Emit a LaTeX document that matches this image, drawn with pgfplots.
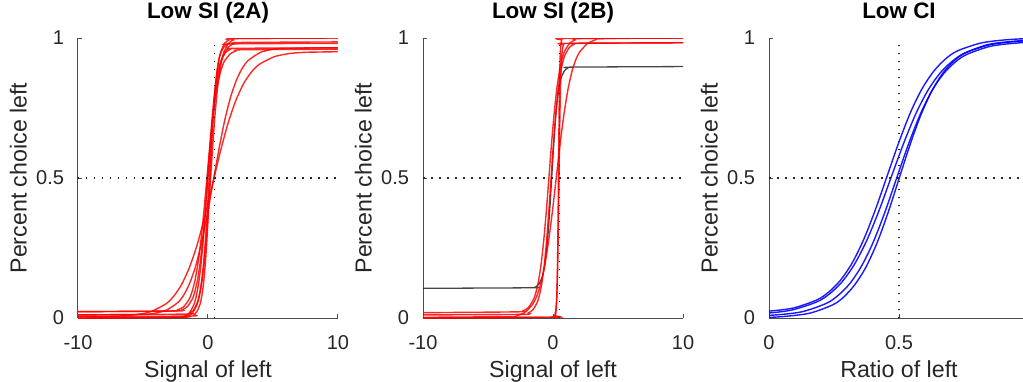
\documentclass[border=0pt]{standalone}
\usepackage{fontspec}
\setmainfont{Liberation Sans}
\usepackage{pgfplots}
\pgfplotsset{compat=1.18}
\definecolor{axgray}{gray}{0.3}
\definecolor{txtgray}{gray}{0.15}

\pgfplotsset{
  psy/.style={
    scale only axis, width=130pt, height=140pt,
    anchor=south west,
    axis x line*=bottom, axis y line*=left,
    axis line style={axgray, line width=0.5pt, -},
    tick align=inside, major tick length=2pt,
    tick style={axgray, line width=0.5pt},
    ymin=0, ymax=1, ytick={0,0.5,1}, yticklabels={0,0.5,1},
    tick label style={font=\fontsize{10}{12}\selectfont, text=txtgray},
    yticklabel style={xshift=-3.5pt},
    xticklabel style={yshift=-5pt},
    label style={font=\fontsize{11.6}{14}\selectfont, text=txtgray},
    xlabel style={at={(axis description cs:0.5,0)}, anchor=base, yshift=-29.5pt},
    ylabel style={at={(axis description cs:0,0.5)}, anchor=south, yshift=22pt},
    title style={at={(axis description cs:0.5,1)}, anchor=base, yshift=3.7pt,
                 font=\bfseries\fontsize{11.2}{13}\selectfont},
    ylabel={Percent choice left},
  },
  sig/.style={
    xmin=-10, xmax=10, xtick={-10,0,10}, xticklabels={-10,0,10},
    xlabel={Signal of left},
  },
  redfit/.style={red, opacity=0.85, line width=0.7pt, smooth, tension=0.4},
  blackfit/.style={black!85, opacity=0.85, line width=0.65pt, smooth, tension=0.4},
  bluefit/.style={blue, opacity=0.9, line width=0.7pt, smooth, tension=0.5},
  refline/.style={black!85, line width=0.75pt, dash pattern=on 0.75pt off 3.25pt},
}

\begin{document}
\begin{tikzpicture}
\useasboundingbox (0,0) rectangle (511.5pt,190.5pt);
\clip (0,0) rectangle (511.5pt,190.5pt);

% ---------------- Low SI (2A) ----------------
\begin{axis}[psy, sig, at={(39pt,31.5pt)}, title={Low SI (2A)}]
\addplot[redfit] coordinates {(-10,0.005) (-6.85,0.007) (-5.65,0.011) (-4.45,0.022) (-3.25,0.050) (-2.65,0.077) (-2.05,0.118) (-1.45,0.178) (-0.85,0.259) (-0.25,0.362) (0.35,0.478) (0.95,0.594) (1.55,0.697) (2.15,0.778) (2.75,0.838) (3.35,0.879) (3.95,0.906) (5.15,0.934) (6.35,0.945) (7.55,0.949) (10,0.951)};
\addplot[redfit] coordinates {(-10,0.011) (-5.0,0.013) (-4.1,0.017) (-3.2,0.028) (-2.3,0.056) (-1.85,0.083) (-1.4,0.125) (-0.95,0.185) (-0.5,0.268) (-0.05,0.371) (0.4,0.488) (0.85,0.605) (1.3,0.709) (1.75,0.791) (2.2,0.851) (2.65,0.893) (3.1,0.920) (4.0,0.948) (4.9,0.959) (5.8,0.963) (10,0.965)};
\addplot[redfit] coordinates {(-10,0.0225) (-2.4,0.025) (-2.0,0.029) (-1.6,0.040) (-1.2,0.068) (-1.0,0.096) (-0.8,0.137) (-0.6,0.198) (-0.4,0.282) (-0.2,0.386) (0,0.504) (0.2,0.622) (0.4,0.727) (0.6,0.810) (0.8,0.871) (1.0,0.913) (1.2,0.940) (1.6,0.969) (2.0,0.980) (2.4,0.984) (10,0.986)};
\addplot[redfit] coordinates {(-10,0.011) (-1.7,0.014) (-1.4,0.018) (-1.1,0.029) (-0.8,0.058) (-0.65,0.086) (-0.5,0.129) (-0.35,0.191) (-0.2,0.277) (-0.05,0.384) (0.1,0.506) (0.25,0.627) (0.4,0.734) (0.55,0.820) (0.7,0.882) (0.85,0.925) (1.0,0.953) (1.3,0.982) (1.6,0.993) (1.9,0.998) (10,1.0)};
\addplot[redfit] coordinates {(-10,0.005) (-1.35,0.007) (-1.1,0.012) (-0.85,0.023) (-0.6,0.051) (-0.475,0.079) (-0.35,0.121) (-0.225,0.183) (-0.1,0.267) (0.025,0.373) (0.15,0.493) (0.275,0.613) (0.4,0.719) (0.525,0.803) (0.65,0.865) (0.775,0.907) (0.9,0.935) (1.15,0.963) (1.4,0.975) (1.65,0.979) (10,0.981)};
\addplot[redfit] coordinates {(-10,0) (-2.15,0.002) (-1.8,0.007) (-1.45,0.017) (-1.1,0.046) (-0.925,0.073) (-0.75,0.115) (-0.575,0.176) (-0.4,0.260) (-0.225,0.364) (-0.05,0.483) (0.125,0.601) (0.3,0.706) (0.475,0.789) (0.65,0.850) (0.825,0.892) (1.0,0.919) (1.35,0.948) (1.7,0.959) (2.05,0.963) (10,0.965)};
\addplot[redfit] coordinates {(-10,0) (-1.9,0.003) (-1.55,0.007) (-1.2,0.018) (-0.85,0.047) (-0.675,0.076) (-0.5,0.119) (-0.325,0.182) (-0.15,0.269) (0.025,0.378) (0.2,0.5) (0.375,0.623) (0.55,0.731) (0.725,0.818) (0.9,0.881) (1.075,0.924) (1.25,0.953) (1.6,0.982) (1.95,0.993) (2.3,0.998) (10,1.0)};
\addplot[redfit] coordinates {(-10,0.0225) (-2.8,0.025) (-2.35,0.029) (-1.9,0.039) (-1.45,0.067) (-1.225,0.094) (-1.0,0.134) (-0.775,0.194) (-0.55,0.275) (-0.325,0.376) (-0.1,0.491) (0.125,0.606) (0.35,0.708) (0.575,0.789) (0.8,0.848) (1.025,0.889) (1.25,0.916) (1.7,0.943) (2.15,0.954) (2.6,0.958) (10,0.960)};
\addplot[refline] coordinates {(-10,0.5) (10,0.5)};
\addplot[refline] coordinates {(0.5,0) (0.5,1)};
\end{axis}

% ---------------- Low SI (2B) ----------------
\begin{axis}[psy, sig, at={(211.5pt,31.5pt)}, title={Low SI (2B)}]
\addplot[blackfit] coordinates {(-10,0.106) (-1.6,0.108) (-1.35,0.111) (-1.1,0.120) (-0.85,0.144) (-0.725,0.166) (-0.6,0.200) (-0.475,0.251) (-0.35,0.319) (-0.225,0.405) (-0.1,0.502) (0.025,0.599) (0.15,0.685) (0.275,0.754) (0.4,0.804) (0.525,0.838) (0.65,0.861) (0.9,0.884) (1.15,0.893) (1.4,0.896) (10,0.898)};
\addplot[redfit] coordinates {(-10,0.019) (-2.7,0.022) (-2.3,0.026) (-1.9,0.037) (-1.5,0.066) (-1.3,0.094) (-1.1,0.136) (-0.9,0.198) (-0.7,0.283) (-0.5,0.389) (-0.3,0.510) (-0.1,0.630) (0.1,0.736) (0.3,0.821) (0.5,0.883) (0.7,0.926) (0.9,0.954) (1.3,0.982) (1.7,0.993) (2.1,0.998) (10,1.0)};
\addplot[redfit] coordinates {(-10,0.011) (-2.25,0.013) (-1.9,0.018) (-1.55,0.029) (-1.2,0.057) (-1.025,0.085) (-0.85,0.127) (-0.675,0.188) (-0.5,0.272) (-0.325,0.378) (-0.15,0.497) (0.025,0.616) (0.2,0.722) (0.375,0.806) (0.55,0.867) (0.725,0.909) (0.9,0.937) (1.25,0.966) (1.6,0.977) (1.95,0.981) (10,0.983)};
\addplot[redfit] coordinates {(-10,0.0025) (-3.35,0.005) (-2.75,0.009) (-2.15,0.020) (-1.55,0.050) (-1.25,0.078) (-0.95,0.121) (-0.65,0.184) (-0.35,0.271) (-0.05,0.379) (0.25,0.501) (0.55,0.622) (0.85,0.730) (1.15,0.816) (1.45,0.879) (1.75,0.922) (2.05,0.950) (2.65,0.980) (3.25,0.993) (3.85,0.998) (10,1.0)};
\addplot[redfit] coordinates {(-10,0) (0.12,0.003) (0.17,0.007) (0.22,0.018) (0.27,0.047) (0.295,0.076) (0.32,0.119) (0.345,0.182) (0.37,0.269) (0.395,0.378) (0.42,0.5) (0.445,0.623) (0.47,0.731) (0.495,0.818) (0.52,0.881) (0.545,0.924) (0.57,0.953) (0.62,0.982) (0.67,0.993) (0.72,0.998) (10,1.0)};
\addplot[redfit] coordinates {(-10,0) (0.04,0.003) (0.11,0.007) (0.18,0.018) (0.25,0.047) (0.285,0.075) (0.32,0.117) (0.355,0.179) (0.39,0.264) (0.425,0.371) (0.46,0.492) (0.495,0.612) (0.53,0.719) (0.565,0.804) (0.6,0.866) (0.635,0.908) (0.67,0.936) (0.74,0.965) (0.81,0.976) (0.88,0.981) (10,0.983)};
\addplot[refline] coordinates {(-10,0.5) (10,0.5)};
\addplot[refline] coordinates {(0.5,0) (0.5,1)};
\end{axis}

% ---------------- Low CI ----------------
\begin{axis}[psy, at={(384.5pt,31.5pt)}, title={Low CI},
  xmin=0, xmax=1, xtick={0,0.5,1}, xticklabels={0,0.5,1},
  xlabel={Ratio of left}]
\addplot[bluefit] coordinates {(-0.2,0.018) (-0.085,0.020) (0.005,0.025) (0.095,0.036) (0.185,0.065) (0.23,0.093) (0.275,0.135) (0.32,0.197) (0.365,0.282) (0.41,0.389) (0.455,0.509) (0.5,0.629) (0.545,0.736) (0.59,0.821) (0.635,0.883) (0.68,0.926) (0.725,0.954) (0.815,0.982) (0.905,0.993) (0.995,0.998) (1.1,1.0)};
\addplot[bluefit] coordinates {(-0.2,0.011) (-0.1,0.014) (0.0,0.018) (0.09,0.029) (0.185,0.058) (0.2325,0.086) (0.28,0.128) (0.3275,0.190) (0.375,0.275) (0.4225,0.382) (0.47,0.503) (0.5175,0.623) (0.565,0.730) (0.6125,0.815) (0.66,0.877) (0.7075,0.919) (0.755,0.947) (0.85,0.976) (0.945,0.987) (1.04,0.992) (1.2,0.994)};
\addplot[bluefit] coordinates {(-0.2,0.005) (-0.05,0.008) (0.04,0.012) (0.13,0.023) (0.22,0.052) (0.265,0.080) (0.31,0.122) (0.355,0.184) (0.4,0.269) (0.445,0.376) (0.49,0.497) (0.535,0.617) (0.58,0.724) (0.625,0.809) (0.67,0.871) (0.715,0.913) (0.76,0.941) (0.85,0.970) (0.94,0.981) (1.03,0.986) (1.2,0.988)};
\addplot[bluefit] coordinates {(-0.2,0) (-0.01,0.002) (0.075,0.007) (0.16,0.018) (0.245,0.047) (0.2875,0.075) (0.33,0.119) (0.3725,0.181) (0.415,0.267) (0.4575,0.375) (0.5,0.497) (0.5425,0.619) (0.585,0.727) (0.6275,0.813) (0.67,0.876) (0.7125,0.919) (0.755,0.947) (0.84,0.976) (0.925,0.987) (1.01,0.992) (1.2,0.994)};
\addplot[refline] coordinates {(0,0.5) (1,0.5)};
\addplot[refline] coordinates {(0.5,0) (0.5,1)};
\end{axis}
\end{tikzpicture}
\end{document}
